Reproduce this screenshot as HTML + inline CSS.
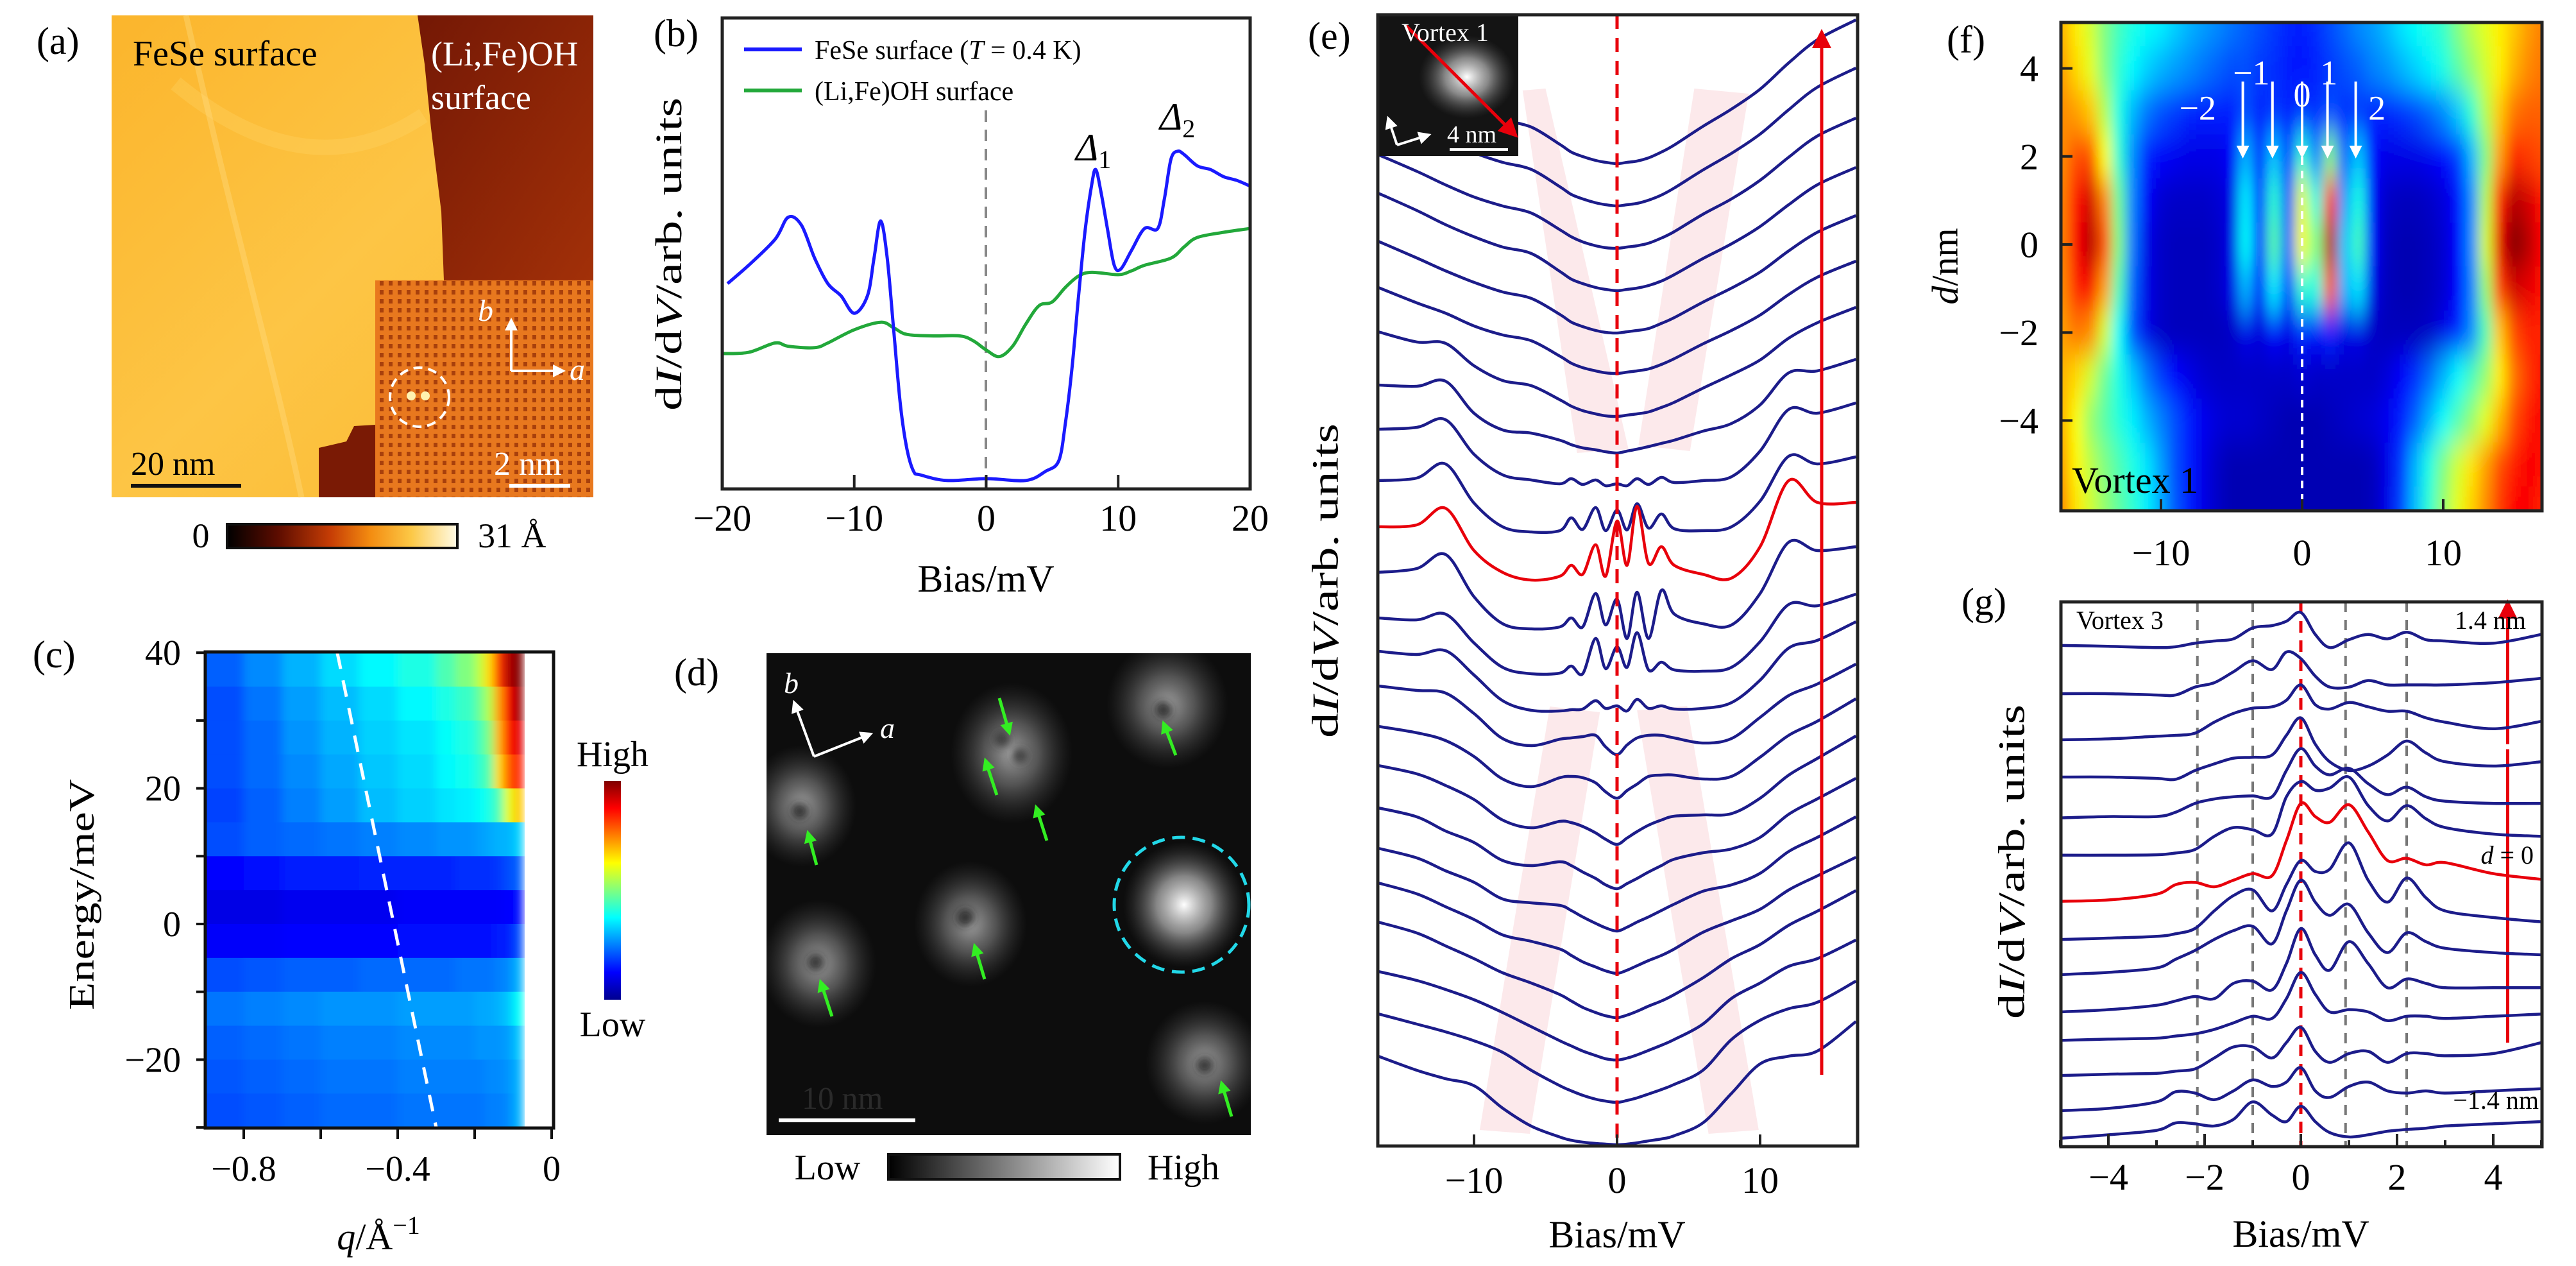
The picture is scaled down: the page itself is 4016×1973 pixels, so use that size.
<!DOCTYPE html>
<html><head><meta charset="utf-8">
<style>
html,body{margin:0;padding:0;background:#fff;}
svg{display:block;font-family:"Liberation Serif","DejaVu Serif",serif;}
</style></head>
<body>
<svg id="fig" width="4016" height="1973" viewBox="0 0 4016 1973" xmlns="http://www.w3.org/2000/svg">
<defs>
  <linearGradient id="gA" x1="0" x2="1" y1="0" y2="0">
    <stop offset="0" stop-color="#000"/><stop offset="0.22" stop-color="#5c0c00"/>
    <stop offset="0.45" stop-color="#c63d05"/><stop offset="0.62" stop-color="#f38b10"/>
    <stop offset="0.8" stop-color="#fcc846"/><stop offset="1" stop-color="#fffbe6"/>
  </linearGradient>
  <linearGradient id="gYel" x1="0" x2="1" y1="0" y2="1">
    <stop offset="0" stop-color="#fbb52c"/><stop offset="0.5" stop-color="#fdc545"/><stop offset="1" stop-color="#fbb830"/>
  </linearGradient>
  <linearGradient id="gDark" x1="0" x2="1" y1="0" y2="1">
    <stop offset="0" stop-color="#741805"/><stop offset="1" stop-color="#a23008"/>
  </linearGradient>
  <linearGradient id="gD" x1="0" x2="1">
    <stop offset="0" stop-color="#000"/><stop offset="1" stop-color="#fff"/>
  </linearGradient>
  <linearGradient id="gJet" x1="0" y1="1" x2="0" y2="0">
    <stop offset="0" stop-color="#00008f"/><stop offset="0.125" stop-color="#0000ff"/>
    <stop offset="0.375" stop-color="#00ffff"/><stop offset="0.625" stop-color="#ffff00"/>
    <stop offset="0.875" stop-color="#ff0000"/><stop offset="1" stop-color="#800000"/>
  </linearGradient>
  <radialGradient id="blob">
    <stop offset="0" stop-color="#bbb" stop-opacity="0.85"/>
    <stop offset="0.45" stop-color="#999" stop-opacity="0.5"/>
    <stop offset="1" stop-color="#555" stop-opacity="0"/>
  </radialGradient>
  <radialGradient id="blobB">
    <stop offset="0" stop-color="#fff" stop-opacity="1"/>
    <stop offset="0.45" stop-color="#bbb" stop-opacity="0.7"/>
    <stop offset="1" stop-color="#555" stop-opacity="0"/>
  </radialGradient>
  <pattern id="lattice" width="14" height="14" patternUnits="userSpaceOnUse">
    <rect width="14" height="14" fill="#e8781e"/>
    <rect x="4" y="4" width="6" height="7" fill="#a8400c"/>
  </pattern>
  <filter id="blurF" x="-5%" y="-5%" width="110%" height="110%"><feGaussianBlur stdDeviation="9 24"/></filter>
  <filter id="blurC" x="-5%" y="0" width="110%" height="100%"><feGaussianBlur stdDeviation="7 0"/></filter>
  <filter id="blurS"><feGaussianBlur stdDeviation="6"/></filter>
  <clipPath id="clipE"><rect x="2148" y="23" width="748" height="1763"/></clipPath>
  <clipPath id="clipF"><rect x="3213" y="35" width="750" height="761"/></clipPath>
  <clipPath id="clipG"><rect x="3213" y="938" width="750" height="849"/></clipPath>
  <clipPath id="clipC"><rect x="320" y="1016" width="498" height="742"/></clipPath>
  <clipPath id="clipB"><rect x="1126" y="28" width="823" height="734"/></clipPath>
  <clipPath id="clipD"><rect x="1195" y="1018" width="755" height="751"/></clipPath>
  <marker id="rh" viewBox="0 0 10 10" refX="5" refY="5" markerWidth="6" markerHeight="6" orient="auto-start-reverse"><path d="M0,0 L10,5 L0,10 z" fill="#e8000b"/></marker>
  <marker id="wh" viewBox="0 0 10 10" refX="5" refY="5" markerWidth="5" markerHeight="5" orient="auto-start-reverse"><path d="M0,0 L10,5 L0,10 z" fill="#fff"/></marker>
  <marker id="gh" viewBox="0 0 10 10" refX="5" refY="5" markerWidth="4" markerHeight="4" orient="auto-start-reverse"><path d="M0,0 L10,5 L0,10 z" fill="#33ee22"/></marker>
</defs>

<!-- ================= Panel (a) ================= -->
<g>
  <text x="57" y="84" font-size="60">(a)</text>
  <rect x="174" y="24" width="751" height="751" fill="url(#gYel)"/>
  <path d="M274,130 Q480,300 660,180" stroke="#ffd66a" stroke-width="24" fill="none" opacity="0.3"/>
  <path d="M290,24 Q330,200 360,320 T420,560 T470,775" stroke="#ffe08a" stroke-width="9" fill="none" opacity="0.35"/>
  <path d="M651,24 L925,24 L925,437 L692,437 L688,330 L672,200 L662,100 Z" fill="url(#gDark)"/>
  <path d="M497,775 L585,775 L585,662 L552,664 L540,688 L497,698 Z" fill="#7a1a05"/>
  <rect x="585" y="437" width="340" height="338" fill="url(#lattice)"/>
  <circle cx="654" cy="619" r="46" fill="none" stroke="#fff" stroke-width="4" stroke-dasharray="14 9"/>
  <circle cx="641" cy="617" r="7" fill="#fff2b0"/>
  <circle cx="663" cy="617" r="7" fill="#fff2b0"/>
  <line x1="797" y1="578" x2="797" y2="505" stroke="#fff" stroke-width="4" marker-end="url(#wh)"/>
  <line x1="797" y1="578" x2="872" y2="578" stroke="#fff" stroke-width="4" marker-end="url(#wh)"/>
  <text x="745" y="500" font-size="48" font-style="italic" fill="#fff">b</text>
  <text x="888" y="592" font-size="48" font-style="italic" fill="#fff">a</text>
  <text x="207" y="102" font-size="56">FeSe surface</text>
  <text x="672" y="102" font-size="54" fill="#fff">(Li,Fe)OH</text>
  <text x="672" y="170" font-size="54" fill="#fff">surface</text>
  <text x="204" y="740" font-size="52">20 nm</text>
  <line x1="204" y1="757" x2="376" y2="757" stroke="#111" stroke-width="6"/>
  <text x="770" y="740" font-size="52" fill="#fff">2 nm</text>
  <line x1="794" y1="757" x2="889" y2="757" stroke="#fff" stroke-width="6"/>
  <rect x="354" y="817" width="359" height="37" fill="url(#gA)" stroke="#111" stroke-width="4"/>
  <text x="313" y="853" font-size="54" text-anchor="middle">0</text>
  <text x="745" y="853" font-size="54">31 Å</text>
</g>

<!-- ================= Panel (b) ================= -->
<g id="panelB">
  <text x="1019" y="72" font-size="60">(b)</text>
  <line x1="1537" y1="172" x2="1537" y2="762" stroke="#888" stroke-width="4" stroke-dasharray="18 12"/>
  <g id="bCurves" clip-path="url(#clipB)"></g>
  <rect x="1126" y="28" width="823" height="734" fill="none" stroke="#222" stroke-width="5"/>
  <g id="bTicks"></g>
  <line x1="1160" y1="77" x2="1250" y2="77" stroke="#1a1aff" stroke-width="6"/>
  <text x="1270" y="92" font-size="42">FeSe surface (<tspan font-style="italic">T</tspan> = 0.4 K)</text>
  <line x1="1160" y1="141" x2="1250" y2="141" stroke="#22a83a" stroke-width="6"/>
  <text x="1270" y="156" font-size="42">(Li,Fe)OH surface</text>
  <text x="1677" y="250" font-size="60" font-style="italic">Δ<tspan font-size="40" font-style="normal" dy="12">1</tspan></text>
  <text x="1808" y="202" font-size="60" font-style="italic">Δ<tspan font-size="40" font-style="normal" dy="12">2</tspan></text>
  <text transform="translate(1062,396) rotate(-90)" font-size="58" text-anchor="middle" textLength="488" lengthAdjust="spacingAndGlyphs">d<tspan font-style="italic">I</tspan>/d<tspan font-style="italic">V</tspan>/arb. units</text>
  <text x="1537" y="922" font-size="60" text-anchor="middle">Bias/mV</text>
</g>

<!-- ================= Panel (c) ================= -->
<g id="panelC">
  <text x="51" y="1040" font-size="60">(c)</text>
  <g clip-path="url(#clipC)"><g id="cCells" filter="url(#blurC)"></g></g>
  <line id="cDash" stroke="#fff" stroke-width="5" stroke-dasharray="26 18"/>
  <rect x="320" y="1016" width="543" height="742" fill="none" stroke="#111" stroke-width="5"/>
  <g id="cTicks"></g>
  <rect x="942" y="1217" width="26" height="341" fill="url(#gJet)"/>
  <text x="955" y="1194" font-size="56" text-anchor="middle">High</text>
  <text x="955" y="1615" font-size="56" text-anchor="middle">Low</text>
  <text transform="translate(146,1394) rotate(-90)" font-size="56" text-anchor="middle" textLength="360" lengthAdjust="spacingAndGlyphs">Energy/meV</text>
  <text x="590" y="1947" font-size="58" text-anchor="middle"><tspan font-style="italic">q</tspan>/Å<tspan font-size="40" dy="-24">−1</tspan></text>
</g>

<!-- ================= Panel (d) ================= -->
<g>
  <text x="1051" y="1068" font-size="60">(d)</text>
  <g clip-path="url(#clipD)">
  <rect x="1195" y="1018" width="755" height="751" fill="#0d0d0d"/>
  <g>
    <ellipse cx="1820" cy="1098" rx="95" ry="100" fill="url(#blob)"/>
    <ellipse cx="1577" cy="1174" rx="95" ry="110" fill="url(#blob)"/>
    <ellipse cx="1250" cy="1256" rx="85" ry="95" fill="url(#blob)"/>
    <ellipse cx="1513" cy="1440" rx="88" ry="98" fill="url(#blob)"/>
    <ellipse cx="1276" cy="1502" rx="90" ry="100" fill="url(#blob)"/>
    <ellipse cx="1846" cy="1410" rx="95" ry="98" fill="url(#blobB)"/>
    <ellipse cx="1878" cy="1656" rx="92" ry="96" fill="url(#blob)"/>
    <g filter="url(#blurS)">
      <circle cx="1814" cy="1106" r="13" fill="#222" opacity="0.8"/>
      <circle cx="1562" cy="1152" r="12" fill="#333" opacity="0.8"/>
      <circle cx="1590" cy="1178" r="12" fill="#333" opacity="0.8"/>
      <circle cx="1247" cy="1264" r="13" fill="#222" opacity="0.8"/>
      <circle cx="1505" cy="1430" r="14" fill="#222" opacity="0.8"/>
      <circle cx="1272" cy="1500" r="13" fill="#222" opacity="0.8"/>
      <circle cx="1878" cy="1660" r="13" fill="#222" opacity="0.8"/>
    </g>
  </g>
  <circle cx="1842" cy="1410" r="105" fill="none" stroke="#22d8e8" stroke-width="5" stroke-dasharray="20 12"/>
  </g>
  <g stroke="#33ee22" stroke-width="5">
    <line x1="1833" y1="1177" x2="1816" y2="1132" marker-end="url(#gh)"/>
    <line x1="1558" y1="1088" x2="1572" y2="1137" marker-end="url(#gh)"/>
    <line x1="1554" y1="1239" x2="1538" y2="1190" marker-end="url(#gh)"/>
    <line x1="1632" y1="1310" x2="1617" y2="1263" marker-end="url(#gh)"/>
    <line x1="1273" y1="1348" x2="1261" y2="1303" marker-end="url(#gh)"/>
    <line x1="1535" y1="1526" x2="1521" y2="1479" marker-end="url(#gh)"/>
    <line x1="1297" y1="1584" x2="1281" y2="1535" marker-end="url(#gh)"/>
    <line x1="1920" y1="1740" x2="1906" y2="1693" marker-end="url(#gh)"/>
  </g>
  <line x1="1269" y1="1179" x2="1240" y2="1100" stroke="#fff" stroke-width="4" marker-end="url(#wh)"/>
  <line x1="1269" y1="1179" x2="1352" y2="1146" stroke="#fff" stroke-width="4" marker-end="url(#wh)"/>
  <text x="1222" y="1080" font-size="46" font-style="italic" fill="#fff">b</text>
  <text x="1372" y="1150" font-size="46" font-style="italic" fill="#fff">a</text>
  <text x="1250" y="1728" font-size="50" fill="#2a2a2a">10 nm</text>
  <line x1="1214" y1="1746" x2="1427" y2="1746" stroke="#fff" stroke-width="6"/>
  <rect x="1385" y="1799" width="361" height="39" fill="url(#gD)" stroke="#111" stroke-width="4"/>
  <text x="1290" y="1838" font-size="56" text-anchor="middle">Low</text>
  <text x="1845" y="1838" font-size="56" text-anchor="middle">High</text>
</g>

<!-- ================= Panel (e) ================= -->
<g id="panelE">
  <text x="2039" y="76" font-size="60">(e)</text>
  <g id="eBands" clip-path="url(#clipE)"></g>
  <g id="eCurves" clip-path="url(#clipE)"></g>
  <line x1="2521" y1="23" x2="2521" y2="1786" stroke="#e8000b" stroke-width="5" stroke-dasharray="22 14"/>
  <line x1="2840" y1="1675" x2="2840" y2="60" stroke="#e8000b" stroke-width="5" marker-end="url(#rh)"/>
  <g>
    <rect x="2148" y="23" width="219" height="220" fill="#141414"/>
    <ellipse cx="2287" cy="120" rx="75" ry="65" fill="url(#blobB)"/>
    <line x1="2192" y1="40" x2="2356" y2="204" stroke="#e8000b" stroke-width="5" marker-end="url(#rh)"/>
    <text x="2185" y="64" font-size="40" fill="#fff">Vortex 1</text>
    <text x="2256" y="222" font-size="38" fill="#fff">4 nm</text>
    <line x1="2260" y1="233" x2="2351" y2="233" stroke="#fff" stroke-width="4"/>
    <line x1="2178" y1="226" x2="2166" y2="190" stroke="#fff" stroke-width="4" marker-end="url(#wh)"/>
    <line x1="2178" y1="226" x2="2222" y2="212" stroke="#fff" stroke-width="4" marker-end="url(#wh)"/>
  </g>
  <rect x="2148" y="23" width="748" height="1763" fill="none" stroke="#222" stroke-width="5"/>
  <g id="eTicks"></g>
  <text transform="translate(2066,905) rotate(-90)" font-size="58" text-anchor="middle" dominant-baseline="central" textLength="490" lengthAdjust="spacingAndGlyphs">d<tspan font-style="italic">I</tspan>/d<tspan font-style="italic">V</tspan>/arb. units</text>
  <text x="2521" y="1944" font-size="60" text-anchor="middle">Bias/mV</text>
</g>

<!-- ================= Panel (f) ================= -->
<g id="panelF">
  <text x="3035" y="82" font-size="60">(f)</text>
  <rect x="3213" y="35" width="750" height="761" fill="#0000a0"/>
  <g clip-path="url(#clipF)"><g id="fCells" filter="url(#blurF)"></g></g>
  <line x1="3589" y1="245" x2="3589" y2="796" stroke="#fff" stroke-width="4" stroke-dasharray="12 9"/>
  <g id="fArrows"></g>
  <text x="3230" y="768" font-size="58">Vortex 1</text>
  <rect x="3213" y="35" width="750" height="761" fill="none" stroke="#222" stroke-width="5"/>
  <g id="fTicks"></g>
  <text transform="translate(3032,415) rotate(-90)" font-size="58" text-anchor="middle" dominant-baseline="central"><tspan font-style="italic">d</tspan>/nm</text>
</g>

<!-- ================= Panel (g) ================= -->
<g id="panelG">
  <text x="3058" y="958" font-size="60">(g)</text>
  <g id="gGuides"></g>
  <g id="gCurves" clip-path="url(#clipG)"></g>
  <rect x="3213" y="938" width="750" height="849" fill="none" stroke="#222" stroke-width="5"/>
  <g id="gTicks"></g>
  <text x="3237" y="980" font-size="40">Vortex 3</text>
  <text x="3938" y="980" font-size="40" text-anchor="end">1.4 nm</text>
  <text x="3950" y="1346" font-size="40" text-anchor="end"><tspan font-style="italic">d</tspan> = 0</text>
  <text x="3958" y="1728" font-size="40" text-anchor="end">−1.4 nm</text>
  <text transform="translate(3136,1343) rotate(-90)" font-size="58" text-anchor="middle" dominant-baseline="central" textLength="490" lengthAdjust="spacingAndGlyphs">d<tspan font-style="italic">I</tspan>/d<tspan font-style="italic">V</tspan>/arb. units</text>
  <text x="3587" y="1943" font-size="60" text-anchor="middle">Bias/mV</text>
</g>
</svg>

<script>
// ---------------- Panel (b) data ----------------
const biasFeSe = [-19.6,-18,-16,-15,-14,-13,-12,-11,-10,-9,-8.5,-8,-7.5,-7,-6.5,-6,-5.5,-5,-3,0,3,4.5,5.5,6,6.5,7,7.5,8,8.3,8.7,9.2,9.7,10.2,11,12,13,13.5,14,14.5,15,16,17,18,19,20];
const valFeSe = [43.6,47.5,53,57.7,56,49,43.6,41,37.3,41,49,56.9,49,33.4,17.8,8.4,3.75,3,1.8,2.2,1.8,3.75,6,14,25.6,41,55,64.7,67.8,63,55,47.5,46.7,50.6,55.3,55.3,61.6,70,71.7,71,68.6,67.8,66.3,65.5,64.3];
const biasLiFeOH = [-20,-18,-16,-15,-13,-12,-10,-8,-7,-6,-4,-2,-1,0,1,2,3,4,5,6,7,8,10,11,12,14,15,16,18,20];
const valLiFeOH = [28.75,29,31,30.3,30,31,33.8,35.4,34.2,32.8,32.5,32.5,31.5,29.5,28.1,30.3,35,38.9,39.7,42.8,45.2,46,45.5,46.3,47.5,49,51.4,53.4,54.5,55.3];
const ticksB = [-20,-10,0,10,20];
const tickLabelsB = ["−20","−10","0","10","20"];

// ---------------- Panel (c) data ----------------
const energyTopC = [40,35,30,25,20,15,10,5,0,-5,-10,-15,-20,-25];
const qEdgesC = [-0.9,-0.8,-0.7,-0.6,-0.5,-0.4,-0.3,-0.25,-0.2,-0.175,-0.15,-0.125,-0.1,-0.075];
const intensityC = [
 [.22,.26,.30,.34,.37,.40,.45,.50,.56,.66,.82,.95,1.0],
 [.20,.24,.28,.31,.34,.37,.40,.43,.48,.55,.72,.88,.97],
 [.20,.23,.27,.30,.33,.35,.38,.40,.44,.50,.70,.85,.90],
 [.20,.23,.26,.29,.32,.34,.37,.39,.42,.46,.66,.78,.85],
 [.19,.22,.25,.28,.31,.33,.35,.36,.38,.40,.45,.60,.68],
 [.20,.22,.23,.24,.25,.26,.27,.27,.28,.29,.30,.30,.33],
 [.13,.14,.15,.15,.16,.16,.16,.17,.17,.17,.18,.20,.22],
 [.10,.10,.11,.11,.11,.12,.12,.12,.12,.12,.12,.13,.14],
 [.12,.12,.13,.13,.13,.14,.14,.14,.14,.14,.15,.15,.20],
 [.20,.21,.22,.22,.23,.23,.23,.24,.24,.24,.25,.26,.30],
 [.24,.25,.26,.27,.27,.28,.28,.28,.29,.29,.30,.32,.38],
 [.22,.23,.24,.25,.25,.26,.26,.26,.27,.27,.27,.28,.32],
 [.21,.22,.23,.24,.24,.25,.25,.25,.25,.26,.26,.27,.30],
 [.20,.21,.22,.23,.23,.24,.24,.24,.24,.25,.25,.26,.30]
];
const dispersionQ = [-0.557,-0.30];
const dispersionE = [40,-30];
const ticksCy = [40,30,20,10,0,-10,-20,-30];
const tickLabelsCy = ["40","","20","","0","","−20",""];
const ticksCx = [-0.8,-0.6,-0.4,-0.2,0];
const tickLabelsCx = ["−0.8","","−0.4","","0"];

// ---------------- Panel (e) data ----------------
const biasE = [-16.7,-14,-12,-10,-8,-6,-4,-3.2,-2.4,-1.5,-0.8,0,0.7,1.4,2.2,3.1,4,6,8,10,12,14,16.7];
const offsetE = [153.1,146.5,139.9,133.3,126.7,120.4,113.7,108.0,102.8,95.7,88.2,80.6,73.4,67.6,61.0,54.2,47.0,40.1,33.5,26.9,20.0,13.4,6.8,0.2];
const spectraE = [
 [15,12.3,10.2,8.3,6.8,5.7,3,1.8,1.1,.5,.2,0,.2,.4,.9,1.8,2.9,5.8,8.5,11.6,15.7,19.3,22.4],
 [15,12.3,10.2,8.3,6.8,5.7,3,1.8,1.1,.5,.2,0,.2,.4,.9,1.7,2.8,5.6,8.2,11.2,15,18.5,21.5],
 [14.6,12,9.9,8,6.6,5.5,2.9,1.8,1,.4,.1,0,.2,.4,.8,1.6,2.6,5.3,7.7,10.6,14.2,17.5,20.3],
 [15.2,12.5,10.3,8.4,6.8,5.8,3,1.8,1.1,.5,.2,0,.2,.4,.8,1.5,2.5,5,7.3,10,13.4,16.5,19.2],
 [14.3,11.7,9.7,7.9,6.4,5.4,2.9,1.7,1,.4,.1,0,.2,.4,.7,1.5,2.4,4.8,7,9.5,12.8,15.7,18.3],
 [13.4,11,9.4,7.4,6,5.1,2.7,1.6,.9,.4,.1,0,.2,.4,.7,1.4,2.3,4.6,6.7,9.1,12.3,15,17.5],
 [13.2,11.6,11.4,7.9,5.6,4.8,2.6,1.6,.9,.4,.1,0,.2,.4,.7,1.4,2.2,4.4,6.5,8.8,12.2,14.6,17],
 [10.6,10.4,11.2,6.2,3.6,3.1,2.0,1.3,.8,.5,.2,0,.3,.6,1,1.5,2,3.4,4.6,7.5,12.5,12.8,14.6],
 [8.9,9.2,10.4,5.0,1.8,1.0,0.4,1.2,0.3,1.0,0.1,0.4,0.1,1.2,0.3,1.4,0.6,0.9,1.5,5.5,12.0,11.4,13.0],
 [8.0,8.4,10.6,4.5,0.8,0,0.2,2.2,0.4,3.8,0.2,3.4,0.3,4.4,0.6,2.8,0.5,0.2,0.8,4.8,11.8,10.6,11.7],
 [8.3,8.6,11.2,4.6,1.2,0,0.6,2.3,0.9,5.5,0.6,9.2,2.3,11.5,2.6,5.2,2.3,0.9,0.3,5.2,15.5,12.1,12.1],
 [8.8,9.4,11.6,5.0,0.8,0,0.3,1.7,0.3,5.5,0.6,4.6,-1.5,5.7,-1.5,6.0,2.3,0.8,0.6,5.5,13.5,12.2,12.8],
 [8.9,8.6,9.5,5.0,1.2,0.2,0.3,1.4,0.2,5.7,1.0,4.4,1.2,6.6,0.8,2.0,0.8,0.6,1.2,5.2,11.0,10.8,12.6],
 [9.5,9.0,9.6,5.8,1.8,0.3,0.2,0.4,0.5,1.8,0.6,1.0,0.2,2.0,0.6,1.0,0.5,0.6,1.5,5.0,10.0,11.2,14.1],
 [10.7,10.0,9.6,6.4,2.5,1.4,2.4,2.6,2.8,3.0,1.2,0,1.5,2.6,3.0,3.0,2.6,1.8,2.5,5.8,9.2,11.0,14.1],
 [11.2,10.2,9.0,6.5,3.0,1.8,3.2,3.4,3.2,2.4,1.0,0,1.2,2.2,3.4,3.6,3.6,3.0,3.4,6.4,9.8,12.0,15.5],
 [12.3,11.0,9.2,7.0,3.8,2.6,3.6,3.4,2.8,1.8,0.8,0,1.0,2.0,3.0,3.8,4.4,4.6,4.8,7.2,10.8,13.4,16.9],
 [12.6,11.2,9.0,7.2,4.4,3.6,4.2,3.6,2.6,1.6,0.6,0,0.8,1.6,2.6,3.6,4.6,5.6,6.2,8.0,11.6,14.0,17.2],
 [12.9,11.4,9.4,7.6,5.0,4.4,4.0,3.2,2.2,1.2,0.5,0,0.6,1.4,2.2,3.2,4.2,6.2,7.2,9.0,12.4,14.6,17.8],
 [14.1,12.4,10.4,8.4,6.0,5.0,3.8,2.8,1.8,1.0,0.4,0,0.5,1.2,2.0,2.8,3.8,6.4,8.2,10.0,13.0,15.2,18.1],
 [14.9,13.2,11.2,9.2,7.0,5.4,3.6,2.6,1.6,0.8,0.3,0,0.4,1.0,1.8,2.6,3.6,6.2,9.2,11.4,14.4,16.6,19.8],
 [13.8,12.4,11.0,9.4,7.4,5.2,3.0,2.2,1.4,0.7,0.2,0,0.3,0.8,1.5,2.3,3.2,5.6,9.6,12.0,14.6,15.8,18.7],
 [13.8,12.2,11.0,9.6,7.8,5.0,2.6,1.8,1.1,0.5,0.2,0,0.3,0.7,1.3,2.0,2.8,5.0,9.8,12.8,14.6,15.6,18.9],
 [13.8,11.6,10.3,9.2,5.7,2.9,1.2,0.7,0.4,0.2,0.1,0,0.1,0.3,0.6,0.9,1.4,3.4,8.0,12.6,13.8,14.6,19.2]
];
const highlightE = 10;
const bandBiasE = [[-6.6,-5.0,0.8,-2.8],[5.4,9.2,5.1,1.5],[-4.7,-1.2,-6.1,-9.6],[1.4,4.9,9.9,6.4]];
const bandUE = [[164.5,164.8,108.6,108.0],[164.8,164.0,108.3,109.2],[68.5,67.6,1.9,2.5],[67.9,68.6,2.5,1.9]];
const ticksE = [-10,0,10];
const tickLabelsE = ["−10","0","10"];

// ---------------- Panel (f) data ----------------
const biasF = [-17,-16,-15,-14,-13,-12,-11,-10,-9,-8,-7,-6,-5,-4,-3,-2,-1,0,1,2,3,4,5,6,7,8,9,10,11,12,13,14,15,16,17];
const distF = [5,4,3,2,1,0,-1,-2,-3,-4,-5,-6];
const intensityF = [
 [.70,.64,.58,.50,.44,.40,.38,.36,.33,.30,.28,.26,.24,.22,.20,.18,.16,.15,.17,.20,.23,.26,.28,.31,.35,.38,.40,.43,.50,.56,.60,.64,.68,.72,.75],
 [.72,.66,.60,.50,.42,.37,.33,.30,.28,.26,.24,.22,.20,.20,.18,.17,.15,.14,.16,.18,.20,.22,.25,.27,.30,.33,.36,.40,.46,.52,.58,.64,.70,.74,.76],
 [.74,.72,.68,.55,.40,.30,.24,.20,.18,.16,.15,.15,.15,.20,.16,.18,.16,.18,.17,.20,.17,.18,.16,.16,.17,.19,.22,.26,.32,.42,.55,.68,.76,.78,.78],
 [.74,.80,.80,.62,.42,.26,.16,.12,.11,.10,.10,.10,.12,.30,.15,.32,.18,.42,.25,.50,.22,.32,.14,.10,.10,.10,.11,.13,.18,.30,.50,.72,.84,.82,.80],
 [.75,.86,.92,.75,.48,.25,.12,.08,.07,.07,.07,.08,.10,.36,.14,.42,.20,.60,.40,.86,.28,.40,.12,.07,.06,.06,.07,.09,.14,.26,.55,.85,.95,.92,.86],
 [.75,.88,.95,.80,.50,.24,.10,.07,.06,.06,.06,.07,.10,.38,.14,.46,.22,.62,.50,.95,.32,.44,.12,.06,.05,.05,.06,.08,.13,.26,.58,.90,1.0,.95,.88],
 [.74,.84,.88,.72,.45,.22,.10,.07,.06,.06,.06,.07,.10,.30,.12,.36,.18,.42,.40,.80,.30,.35,.10,.06,.05,.05,.06,.08,.13,.25,.52,.82,.92,.90,.86],
 [.72,.76,.74,.58,.38,.20,.10,.07,.06,.06,.06,.06,.07,.10,.09,.12,.10,.16,.12,.16,.10,.10,.07,.06,.06,.06,.07,.10,.16,.26,.45,.68,.80,.84,.84],
 [.70,.66,.58,.48,.40,.32,.24,.18,.13,.10,.08,.07,.07,.07,.07,.07,.07,.08,.07,.07,.07,.07,.07,.09,.12,.17,.23,.30,.37,.44,.52,.64,.76,.82,.86],
 [.70,.62,.52,.46,.41,.36,.30,.25,.20,.15,.11,.09,.08,.08,.07,.06,.05,.05,.05,.06,.07,.08,.09,.11,.15,.22,.30,.38,.45,.52,.60,.70,.80,.85,.88],
 [.72,.63,.56,.50,.45,.40,.35,.28,.20,.15,.10,.07,.05,.05,.05,.05,.05,.05,.05,.05,.05,.05,.06,.10,.18,.30,.40,.50,.58,.65,.72,.80,.85,.88,.86],
 [.74,.65,.58,.52,.47,.42,.36,.29,.21,.15,.10,.07,.05,.05,.05,.05,.05,.05,.05,.05,.05,.05,.06,.10,.19,.31,.42,.52,.60,.67,.74,.82,.87,.88,.84]
];
const levelBiasF = [-4.2,-2.1,0,1.8,3.8];
const levelLabelsF = ["−2","−1","0","1","2"];
const levelLabelBiasF = [-7.4,-3.6,0,1.9,5.3];
const levelLabelDF = [3.1,3.9,3.4,3.9,3.1];
const ticksFx = [-10,0,10];
const tickLabelsFx = ["−10","0","10"];
const ticksFy = [4,2,0,-2,-4];
const tickLabelsFy = ["4","2","0","−2","−4"];

// ---------------- Panel (g) data ----------------
const biasG = [-5,-4,-3,-2.6,-2.2,-1.8,-1.4,-1.0,-0.6,-0.3,0,0.3,0.6,1.0,1.4,1.8,2.2,2.6,3,4,5];
const spectraG = [
 [11.45,11.43,11.40,11.42,11.50,11.55,11.60,11.85,11.90,12.00,12.20,11.70,11.40,11.58,11.70,11.60,11.75,11.58,11.55,11.50,11.70],
 [10.35,10.35,10.32,10.32,10.50,10.60,10.85,11.10,10.90,11.30,11.15,10.75,10.50,10.50,10.65,10.55,10.55,10.55,10.55,10.60,10.70],
 [9.30,9.32,9.38,9.40,9.45,9.70,9.90,10.02,10.05,10.20,10.55,10.10,10.00,10.15,10.05,9.95,9.95,9.80,9.70,9.55,9.72],
 [8.45,8.45,8.42,8.40,8.60,8.75,8.88,8.90,8.95,9.40,9.80,9.20,8.80,8.60,8.70,8.95,9.27,9.00,8.80,8.70,8.80],
 [7.52,7.55,7.55,7.65,7.85,7.95,8.00,8.02,8.00,8.60,9.10,8.70,8.50,8.65,8.30,8.05,8.22,8.00,7.90,7.85,7.85],
 [6.67,6.67,6.68,6.72,6.80,7.10,7.30,7.25,7.15,8.00,8.35,8.15,8.20,8.45,7.80,7.45,7.80,7.50,7.30,7.15,7.10],
 [5.62,5.65,5.78,6.00,6.05,5.95,6.10,6.25,6.20,7.00,7.85,7.55,7.42,7.82,7.20,6.55,6.60,6.45,6.50,6.25,6.12],
 [4.75,4.78,4.82,4.88,5.00,5.40,5.75,5.88,5.40,6.00,6.55,6.30,6.35,6.95,6.10,5.60,6.15,5.70,5.40,5.25,5.15],
 [3.95,4.00,4.10,4.30,4.50,4.75,4.95,5.05,4.65,5.40,6.10,5.60,5.30,5.55,4.90,4.45,4.90,4.70,4.55,4.45,4.40],
 [3.10,3.15,3.25,3.35,3.45,3.40,3.75,3.80,3.60,4.20,5.00,4.40,4.05,4.70,4.20,3.65,3.85,3.75,3.65,3.65,3.65],
 [2.45,2.48,2.50,2.55,2.60,2.70,2.85,3.00,2.95,3.40,4.00,3.50,3.10,3.15,3.10,2.90,3.00,3.00,2.95,3.00,3.05],
 [1.65,1.68,1.70,1.75,1.80,2.05,2.30,2.30,2.05,2.40,2.75,2.20,1.95,2.15,2.20,1.95,2.15,2.15,2.10,2.15,2.40],
 [0.85,0.90,1.05,1.28,1.25,1.10,1.30,1.55,1.40,1.50,1.83,1.30,1.15,1.40,1.50,1.30,1.25,1.30,1.25,1.30,1.35],
 [0.22,0.30,0.40,0.57,0.55,0.50,0.65,1.05,0.75,0.60,0.95,0.60,0.35,0.25,0.30,0.38,0.42,0.45,0.50,0.55,0.60]
];
const highlightG = 6;
const guideBiasG = [-2.15,-1.0,0.93,2.2];
const arrowBiasG = 4.3;
const arrowVG = [2.4,9.2,10.4,12.28];
const ticksG = [-5,-4,-3,-2,-1,0,1,2,3,4,5];
const tickLabelsG = ["","−4","","−2","","0","","2","","4",""];

// ---------------- helpers ----------------
const NS = 'http://www.w3.org/2000/svg';
function mk(tag, attrs, parent){
  const el = document.createElementNS(NS, tag);
  for (const k in attrs) el.setAttribute(k, attrs[k]);
  parent.appendChild(el);
  return el;
}
function smoothPath(pts){
  let d = 'M' + pts[0][0].toFixed(1) + ',' + pts[0][1].toFixed(1);
  for (let i = 0; i < pts.length - 1; i++){
    const p0 = pts[i-1] || pts[i], p1 = pts[i], p2 = pts[i+1], p3 = pts[i+2] || pts[i+1];
    const c1x = p1[0] + (p2[0]-p0[0])/6, c1y = p1[1] + (p2[1]-p0[1])/6;
    const c2x = p2[0] - (p3[0]-p1[0])/6, c2y = p2[1] - (p3[1]-p1[1])/6;
    d += ' C' + c1x.toFixed(1) + ',' + c1y.toFixed(1) + ' ' + c2x.toFixed(1) + ',' + c2y.toFixed(1) + ' ' + p2[0].toFixed(1) + ',' + p2[1].toFixed(1);
  }
  return d;
}
function clamp01(v){ return Math.max(0, Math.min(1, v)); }
function jet(v){
  v = clamp01(v);
  const r = clamp01(1.5 - Math.abs(4*v - 3));
  const g = clamp01(1.5 - Math.abs(4*v - 2));
  const b = clamp01(1.5 - Math.abs(4*v - 1));
  return 'rgb(' + Math.round(r*255) + ',' + Math.round(g*255) + ',' + Math.round(b*255) + ')';
}

// ---------------- scales ----------------
const xB = v => 1126 + (v + 20) / 40 * 823;
const yB = u => 762 - u / 100 * 734;
const xC = q => 860 + q * 600;
const yC = e => 1440 - e * 10.57;
const xE = b => 2521 + b * 22.3;
const yE = u => 1786 - u * 10;
const xF = b => 3589 + b * 22;
const yF = d => 381 - d * 68.6;
const xG = b => 3587 + b * 75;
const yG = v => 1789 - v * 68.4;

// ---------------- draw (b) ----------------
const bCurves = document.getElementById('bCurves');
const pLi = mk('path', {d: smoothPath(biasLiFeOH.map((b,i)=>[xB(b), yB(valLiFeOH[i])])), fill:'none', stroke:'#22a83a', 'stroke-width':5}, bCurves);


const pFe = mk('path', {d: smoothPath(biasFeSe.map((b,i)=>[xB(b), yB(valFeSe[i])])), fill:'none', stroke:'#1a1aff', 'stroke-width':5}, bCurves);


const bTicks = document.getElementById('bTicks');
ticksB.forEach((t,i)=>{
  const tk = mk('line', {x1:xB(t), x2:xB(t), y1:762, y2:740, stroke:'#222', 'stroke-width':4}, bTicks);
  
  
  const tl = mk('text', {x:xB(t), y:827, 'font-size':58, 'text-anchor':'middle'}, bTicks);
  tl.textContent = tickLabelsB[i];
  
  
});

// ---------------- draw (c) ----------------
const cCells = document.getElementById('cCells');
energyTopC.forEach((e,r)=>{
  for (let c = 0; c < qEdgesC.length - 1; c++){
    const x0 = xC(qEdgesC[c]) - (c===0 ? 20 : 0), x1 = xC(qEdgesC[c+1]) + 0.5;
    const cell = mk('rect', {x:x0, y:yC(e), width:x1-x0, height:yC(e-5)-yC(e)+0.5, fill:jet(intensityC[r][c])}, cCells);
    
    
  }
});
const cDash = document.getElementById('cDash');
cDash.setAttribute('x1', xC(dispersionQ[0])); cDash.setAttribute('y1', yC(dispersionE[0]));
cDash.setAttribute('x2', xC(dispersionQ[1])); cDash.setAttribute('y2', yC(dispersionE[1]));
const cTicks = document.getElementById('cTicks');
ticksCy.forEach((t,i)=>{
  const tk = mk('line', {x1:306, x2:320, y1:yC(t), y2:yC(t), stroke:'#111', 'stroke-width':4}, cTicks);
  
  
  if (tickLabelsCy[i]){
    const tl = mk('text', {x:282, y:yC(t)+19, 'font-size':56, 'text-anchor':'end'}, cTicks);
    tl.textContent = tickLabelsCy[i];
    
    
  }
});
ticksCx.forEach((t,i)=>{
  const tk = mk('line', {x1:xC(t), x2:xC(t), y1:1758, y2:1775, stroke:'#111', 'stroke-width':4}, cTicks);
  
  
  if (tickLabelsCx[i]){
    const tl = mk('text', {x:xC(t), y:1840, 'font-size':56, 'text-anchor':'middle'}, cTicks);
    tl.textContent = tickLabelsCx[i];
    
    
  }
});

// ---------------- draw (e) ----------------
const eBands = document.getElementById('eBands');
bandBiasE.forEach((bs,k)=>{
  const pts = bs.map((b,j)=> xE(b).toFixed(1) + ',' + yE(bandUE[k][j]).toFixed(1)).join(' ');
  const band = mk('polygon', {points:pts, fill:'#f8c8cc', opacity:0.4}, eBands);
  
  
});
const eCurves = document.getElementById('eCurves');
spectraE.forEach((sh,i)=>{
  const pts = biasE.map((b,j)=>[xE(b), yE(offsetE[i] + sh[j])]);
  const p = mk('path', {d:smoothPath(pts), fill:'none', stroke: i===highlightE ? '#e8000b' : '#1c1c8a', 'stroke-width':4.5, 'stroke-linejoin':'round'}, eCurves);
  
  
});
const eTicks = document.getElementById('eTicks');
ticksE.forEach((t,i)=>{
  const tk = mk('line', {x1:xE(t), x2:xE(t), y1:1786, y2:1768, stroke:'#222', 'stroke-width':4}, eTicks);
  
  
  const tl = mk('text', {x:xE(t), y:1859, 'font-size':58, 'text-anchor':'middle'}, eTicks);
  tl.textContent = tickLabelsE[i];
  
  
});

// ---------------- draw (f) ----------------
const fCells = document.getElementById('fCells');
distF.forEach((d,r)=>{
  biasF.forEach((b,c)=>{
    const x0 = xF(b - 0.5) - (c===0 ? 30 : 0), x1 = xF(b + 0.5) + (c===biasF.length-1 ? 30 : 0.5);
    const y0 = yF(d + 0.5) - (r===0 ? 40 : 0), y1 = yF(d - 0.5) + (r===distF.length-1 ? 40 : 0.5);
    const cell = mk('rect', {x:x0, y:y0, width:x1-x0, height:y1-y0, fill:jet(intensityF[r][c])}, fCells);
    
    
  });
});
const fArrows = document.getElementById('fArrows');
levelBiasF.forEach((b,i)=>{
  const ar = mk('line', {x1:xF(b), x2:xF(b), y1:yF(3.7), y2:yF(2.1), stroke:'#fff', 'stroke-width':4, 'marker-end':'url(#wh)'}, fArrows);
  
  
  const lb = mk('text', {x:xF(levelLabelBiasF[i]), y:yF(levelLabelDF[i])+18, 'font-size':54, 'text-anchor':'middle', fill:'#fff'}, fArrows);
  lb.textContent = levelLabelsF[i];
  
  
});
const fTicks = document.getElementById('fTicks');
ticksFx.forEach((t,i)=>{
  const tk = mk('line', {x1:xF(t), x2:xF(t), y1:796, y2:778, stroke:'#222', 'stroke-width':4}, fTicks);
  
  
  const tl = mk('text', {x:xF(t), y:881, 'font-size':58, 'text-anchor':'middle'}, fTicks);
  tl.textContent = tickLabelsFx[i];
  
  
});
ticksFy.forEach((t,i)=>{
  const tk = mk('line', {x1:3213, x2:3231, y1:yF(t), y2:yF(t), stroke:'#222', 'stroke-width':4}, fTicks);
  
  
  const tl = mk('text', {x:3178, y:yF(t)+20, 'font-size':58, 'text-anchor':'end'}, fTicks);
  tl.textContent = tickLabelsFy[i];
  
  
});

// ---------------- draw (g) ----------------
const gGuides = document.getElementById('gGuides');
guideBiasG.forEach(b=>{
  const gl = mk('line', {x1:xG(b), x2:xG(b), y1:938, y2:1787, stroke:'#777', 'stroke-width':4, 'stroke-dasharray':'16 12'}, gGuides);
  
  
});
const gZero = mk('line', {x1:xG(0), x2:xG(0), y1:938, y2:1787, stroke:'#e8000b', 'stroke-width':5, 'stroke-dasharray':'18 12'}, gGuides);


const gArrUp = mk('line', {x1:xG(arrowBiasG), x2:xG(arrowBiasG), y1:yG(arrowVG[1]), y2:yG(arrowVG[3]), stroke:'#e8000b', 'stroke-width':5, 'marker-end':'url(#rh)'}, gGuides);


const gArrLo = mk('line', {x1:xG(arrowBiasG), x2:xG(arrowBiasG), y1:yG(arrowVG[0]), y2:yG(arrowVG[2]) + 90, stroke:'#e8000b', 'stroke-width':5}, gGuides);


const gCurves = document.getElementById('gCurves');
spectraG.forEach((vals,i)=>{
  const pts = biasG.map((b,j)=>[xG(b), yG(vals[j])]);
  const p = mk('path', {d:smoothPath(pts), fill:'none', stroke: i===highlightG ? '#e8000b' : '#1c1c8a', 'stroke-width':4.5, 'stroke-linejoin':'round'}, gCurves);
  
  
});
const gTicks = document.getElementById('gTicks');
ticksG.forEach((t,i)=>{
  const major = tickLabelsG[i] !== '' || t === 0;
  const tk = mk('line', {x1:xG(t), x2:xG(t), y1:1787, y2: major ? 1767 : 1777, stroke:'#222', 'stroke-width':4}, gTicks);
  
  
  if (tickLabelsG[i]){
    const tl = mk('text', {x:xG(t), y:1854, 'font-size':58, 'text-anchor':'middle'}, gTicks);
    tl.textContent = tickLabelsG[i];
    
    
  }
});
</script>
</body></html>
